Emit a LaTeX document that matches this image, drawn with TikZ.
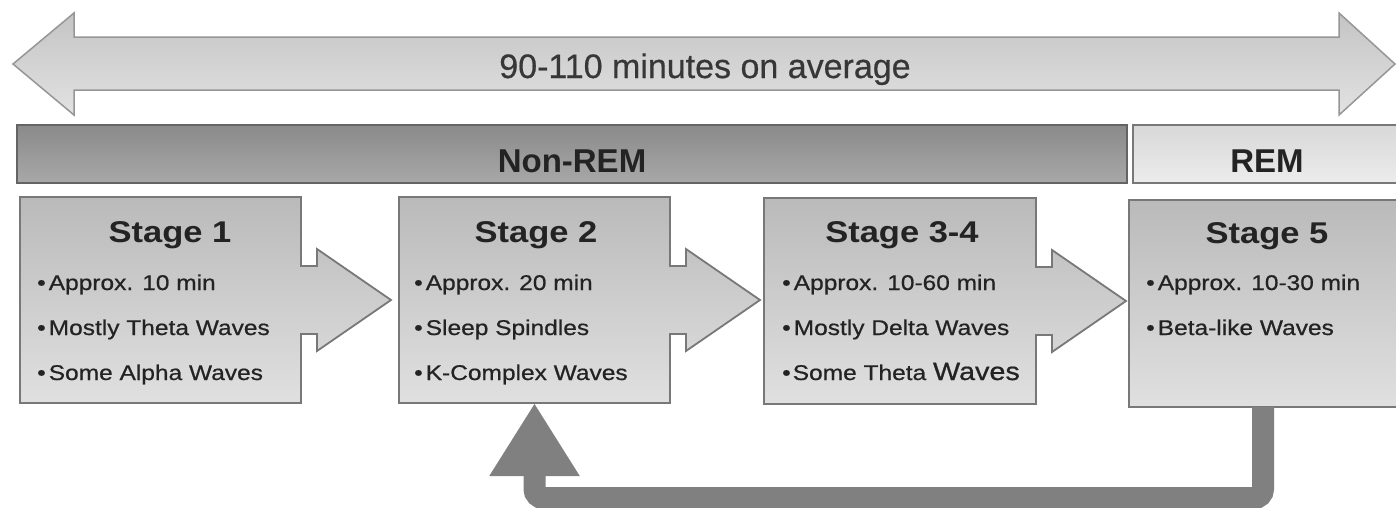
\documentclass[tikz,border=0pt]{standalone}
\usepackage{fontspec}
\setmainfont{Liberation Sans}
\newfontfamily\boxfont[FakeStretch=1.15]{Liberation Sans}
\newfontfamily\itemfont[FakeStretch=1.15,FakeBold=0.7]{Liberation Sans}
\newfontfamily\spanfont[FakeBold=0.5]{Liberation Sans}
\usetikzlibrary{arrows.meta,calc}

\definecolor{spantop}{RGB}{196,196,196}
\definecolor{spanbot}{RGB}{226,226,226}
\definecolor{spanline}{RGB}{150,150,150}
\definecolor{nremtop}{RGB}{138,138,138}
\definecolor{nrembot}{RGB}{168,168,168}
\definecolor{nremline}{RGB}{100,100,100}
\definecolor{remtop}{RGB}{216,216,216}
\definecolor{rembot}{RGB}{236,236,236}
\definecolor{remline}{RGB}{120,120,120}
\definecolor{boxtop}{RGB}{186,186,186}
\definecolor{boxbot}{RGB}{224,224,224}
\definecolor{boxline}{RGB}{120,120,120}
\definecolor{loopcol}{RGB}{128,128,128}
\definecolor{inkdark}{RGB}{35,35,35}
\definecolor{inkmid}{RGB}{55,55,55}

\tikzset{
  spanarrow/.style={draw=spanline, line width=1.5pt, top color=spantop, bottom color=spanbot},
  phasebar/.style={draw=#1line, line width=1.8pt, top color=#1top, bottom color=#1bot,
    inner sep=0pt, outer sep=0pt, anchor=north west},
  stagearea/.style={inner sep=0pt, outer sep=0pt, anchor=north west},
  stagefill/.style={draw=boxline, line width=1.8pt, top color=boxtop, bottom color=boxbot, line join=miter},
  spantext/.style={anchor=base, text=inkmid, font=\spanfont\fontsize{34}{40}\selectfont},
  phasetext/.style={anchor=base, text=inkdark, font=\fontsize{33}{38}\selectfont\bfseries},
  stagetitle/.style={anchor=base, text=inkdark, font=\boxfont\fontsize{30}{36}\selectfont\bfseries},
  bullet/.style={anchor=base west, text=inkdark, inner sep=0pt, font=\itemfont\fontsize{21.3}{25}\selectfont},
  loopline/.style={draw=loopcol, line width=22pt, rounded corners=9pt,
    -{Triangle[width=85pt,length=73pt]}},
}

% a stage box with a pointer leaving its right side; #1 = box node
\newcommand{\pointerbox}[1]{%
  \path[stagefill] (#1.north west) -- (#1.north east)
    -- ($(#1.east)+(0,34)$) -- ($(#1.east)+(16,34)$) -- ($(#1.east)+(16,51)$)
    -- ($(#1.east)+(90,0)$)
    -- ($(#1.east)+(16,-51)$) -- ($(#1.east)+(16,-34)$) -- ($(#1.east)+(0,-34)$)
    -- (#1.south east) -- (#1.south west) -- cycle;}

\begin{document}
\begin{tikzpicture}[x=1pt,y=1pt]
\useasboundingbox (0,0) rectangle (1396,-507);
\clip (0,0) rectangle (1396,-507);
\fill[white] (0,0) rectangle (1396,-507);

% overall cycle length
\path[spanarrow] (13,-64) -- (74,-13) -- (74,-37) -- (1339,-37) -- (1339,-13)
  -- (1395,-64) -- (1339,-115) -- (1339,-90) -- (74,-90) -- (74,-115) -- cycle;
\node[spantext] (span) at (705,-78) {90-110 minutes on average};

% sleep phases
\node[phasebar=nrem, minimum width=1110pt, minimum height=58pt] (nrem) at (17,-125) {};
\node[phasetext] (nremlabel) at (nrem.center |- 0,-172) {Non-REM};
\node[phasebar=rem, minimum width=270pt, minimum height=58pt] (rem) at (1133,-125) {};
\node[phasetext] (remlabel) at (1267,-172) {REM};

% stage areas
\node[stagearea, minimum width=281pt, minimum height=206pt] (s1) at (20,-197) {};
\node[stagearea, minimum width=271pt, minimum height=206pt] (s2) at (399,-197) {};
\node[stagearea, minimum width=272pt, minimum height=206pt] (s3) at (764,-198) {};
\node[stagearea, minimum width=276pt, minimum height=207pt] (s5) at (1129,-200) {};

\pointerbox{s1}
\pointerbox{s2}
\pointerbox{s3}
\path[stagefill] (s5.north west) rectangle (s5.south east);

% stage 1
\node[stagetitle] (t1) at (170,-242) {Stage 1};
\node[bullet] (a1) at (37,-290) {•\hspace{3pt}Approx. 10 min};
\node[bullet] (b1) at (37,-335) {•\hspace{3pt}Mostly Theta Waves};
\node[bullet] (c1) at (37,-380) {•\hspace{3pt}Some Alpha Waves};

% stage 2
\node[stagetitle] (t2) at (536,-242) {Stage 2};
\node[bullet] (a2) at (414,-290) {•\hspace{3pt}Approx. 20 min};
\node[bullet] (b2) at (414,-335) {•\hspace{3pt}Sleep Spindles};
\node[bullet] (c2) at (414,-380) {•\hspace{3pt}K-Complex Waves};

% stage 3-4
\node[stagetitle] (t3) at (902,-242) {Stage 3-4};
\node[bullet] (a3) at (782,-290) {•\hspace{3pt}Approx. 10-60 min};
\node[bullet] (b3) at (782,-335) {•\hspace{3pt}Mostly Delta Waves};
\node[bullet] (c3) at (782,-380) {•\hspace{2pt}Some Theta {\fontsize{25}{28}\selectfont Waves}};

% stage 5
\node[stagetitle] (t5) at (1267,-243) {Stage 5};
\node[bullet] (a5) at (1146,-290) {•\hspace{3pt}Approx. 10-30 min};
\node[bullet] (b5) at (1146,-335) {•\hspace{3pt}Beta-like Waves};

% return from REM to stage 2
\coordinate (loopturn) at (1263,-498);
\draw[loopline] (s5.south -| loopturn) -- (loopturn) -| (s2.south);
\end{tikzpicture}
\end{document}
